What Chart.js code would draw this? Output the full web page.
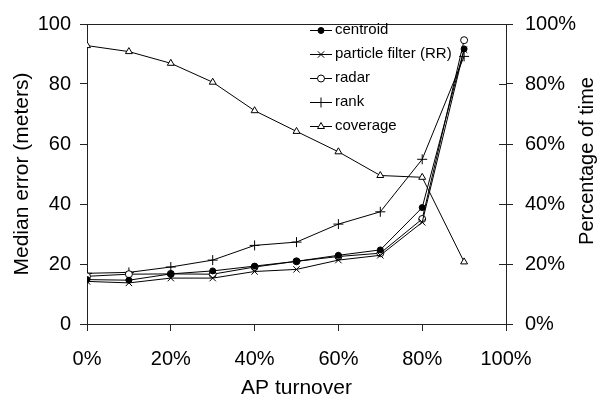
<!DOCTYPE html>
<html>
<head>
<meta charset="utf-8">
<script src="https://cdn.jsdelivr.net/npm/chart.js@4"></script>
<style>
  html, body { margin: 0; padding: 0; background: #fff; }
  #wrap { width: 607px; height: 402px; }
</style>
</head>
<body>
<div id="wrap"><canvas id="chart" width="607" height="402"></canvas></div>
<script>
const turnover = [0, 10, 20, 30, 40, 50, 60, 70, 80, 90];
const centroid = [14.8, 14.6, 16.7, 17.7, 19.3, 20.9, 22.9, 24.7, 38.8, 91.7];
const particleRR = [14.2, 13.7, 15.3, 15.3, 17.5, 18.2, 21.3, 22.9, 33.9, 91.4];
const radar = [15.9, 16.6, 16.7, 16.6, 19.0, 20.9, 22.5, 23.6, 35.0, 94.6];
const rank = [16.9, 17.2, 19.0, 21.3, 26.2, 27.3, 33.3, 37.4, 54.9, 89.2];
const coverage = [92.8, 90.8, 86.9, 80.6, 71.1, 64.2, 57.4, 49.5, 48.9, 20.7];
const xTicks = ['0%', '20%', '40%', '60%', '80%', '100%'];

const FONT = '"Liberation Sans", Arial, Helvetica, sans-serif';
const INK = '#222';

const pts = arr => arr.map((v, i) => ({ x: turnover[i], y: v }));

function series(label, data, style, radius, fill, axis) {
  return {
    label, data: pts(data), yAxisID: axis || 'y',
    borderColor: '#000', borderWidth: 1,
    pointStyle: style, pointRadius: radius, pointHoverRadius: radius,
    pointBackgroundColor: fill, pointBorderColor: '#000', pointBorderWidth: 1,
    tension: 0,
  };
}

// legend inside the plot (line + marker samples), right title, top frame
const extras = {
  id: 'extras',
  afterDraw(chart) {
    const ctx = chart.ctx;
    const area = chart.chartArea;
    ctx.save();
    ctx.strokeStyle = INK;
    ctx.lineWidth = 1;
    // top frame line
    ctx.beginPath();
    ctx.moveTo(area.left, Math.round(area.top) + 0.5);
    ctx.lineTo(area.right, Math.round(area.top) + 0.5);
    ctx.stroke();
    // inner half of the right axis ticks
    const y2 = chart.scales.y2;
    y2.ticks.forEach((t, i) => {
      const py = Math.round(y2.getPixelForTick(i)) + 0.5;
      ctx.beginPath();
      ctx.moveTo(area.right - 7, py);
      ctx.lineTo(area.right, py);
      ctx.stroke();
    });

    // legend
    ctx.font = '15px ' + FONT;
    ctx.textBaseline = 'middle';
    ctx.textAlign = 'left';
    chart.data.datasets.forEach((ds, i) => {
      const y = 30 + i * 24;
      ctx.strokeStyle = '#000';
      ctx.beginPath();
      ctx.moveTo(310, y + 0.5);
      ctx.lineTo(332, y + 0.5);
      ctx.stroke();
      ctx.fillStyle = ds.pointBackgroundColor;
      Chart.helpers.drawPoint(ctx, {
        pointStyle: ds.pointStyle, radius: ds.pointRadius, rotation: 0, borderWidth: 1
      }, 321, y + 0.5);
      ctx.fillStyle = '#000';
      ctx.fillText(ds.label, 335, y);
    });

    // right axis title, reading bottom to top
    ctx.fillStyle = '#000';
    ctx.font = '20px ' + FONT;
    ctx.textAlign = 'center';
    ctx.translate(587, 161);
    ctx.rotate(-Math.PI / 2);
    ctx.fillText('Percentage of time', 0, 0);
    ctx.restore();
  }
};

const tickGrid = { display: true, drawOnChartArea: false, color: INK, tickLength: 7, lineWidth: 1 };

new Chart(document.getElementById('chart'), {
  type: 'line',
  data: {
    datasets: [
      series('centroid', centroid, 'circle', 3, '#000'),
      series('particle filter (RR)', particleRR, 'crossRot', 4.5, '#fff'),
      series('radar', radar, 'circle', 3.5, '#fff'),
      series('rank', rank, 'cross', 5, '#fff'),
      series('coverage', coverage, 'triangle', 4, '#fff', 'y2'),
    ]
  },
  options: {
    responsive: false,
    animation: false,
    layout: { padding: { top: 15, left: 0, right: 0, bottom: 0 } },
    plugins: { legend: { display: false }, tooltip: { enabled: false } },
    scales: {
      x: {
        type: 'linear', min: 0, max: 100,
        afterFit: s => { s.height = 78; },
        afterBuildTicks: s => { s.ticks = xTicks.map((_, i) => ({ value: i * 20 })); },
        ticks: {
          color: '#000', font: { family: FONT, size: 20 }, padding: 16,
          maxRotation: 0, autoSkip: false,
          callback: (v, i) => xTicks[i],
        },
        grid: tickGrid,
        border: { display: true, color: INK, width: 1 },
        title: { display: true, text: 'AP turnover', color: '#000', font: { family: FONT, size: 21 }, padding: { top: 0, bottom: 1 } },
      },
      y: {
        position: 'left', min: 0, max: 100,
        afterFit: s => { s.width = 87; },
        ticks: { stepSize: 20, color: '#000', font: { family: FONT, size: 20 }, padding: 9 },
        grid: tickGrid,
        border: { display: true, color: INK, width: 1 },
        title: { display: true, text: 'Median error (meters)', color: '#000', font: { family: FONT, size: 21 }, padding: { top: 10, bottom: 0 } },
      },
      y2: {
        position: 'right', min: 0, max: 100,
        afterFit: s => { s.width = 101; },
        ticks: { stepSize: 20, color: '#000', font: { family: FONT, size: 20 }, padding: 12, callback: v => v + '%' },
        grid: tickGrid,
        border: { display: true, color: INK, width: 1 },
      },
    }
  },
  plugins: [extras]
});
</script>
</body>
</html>
